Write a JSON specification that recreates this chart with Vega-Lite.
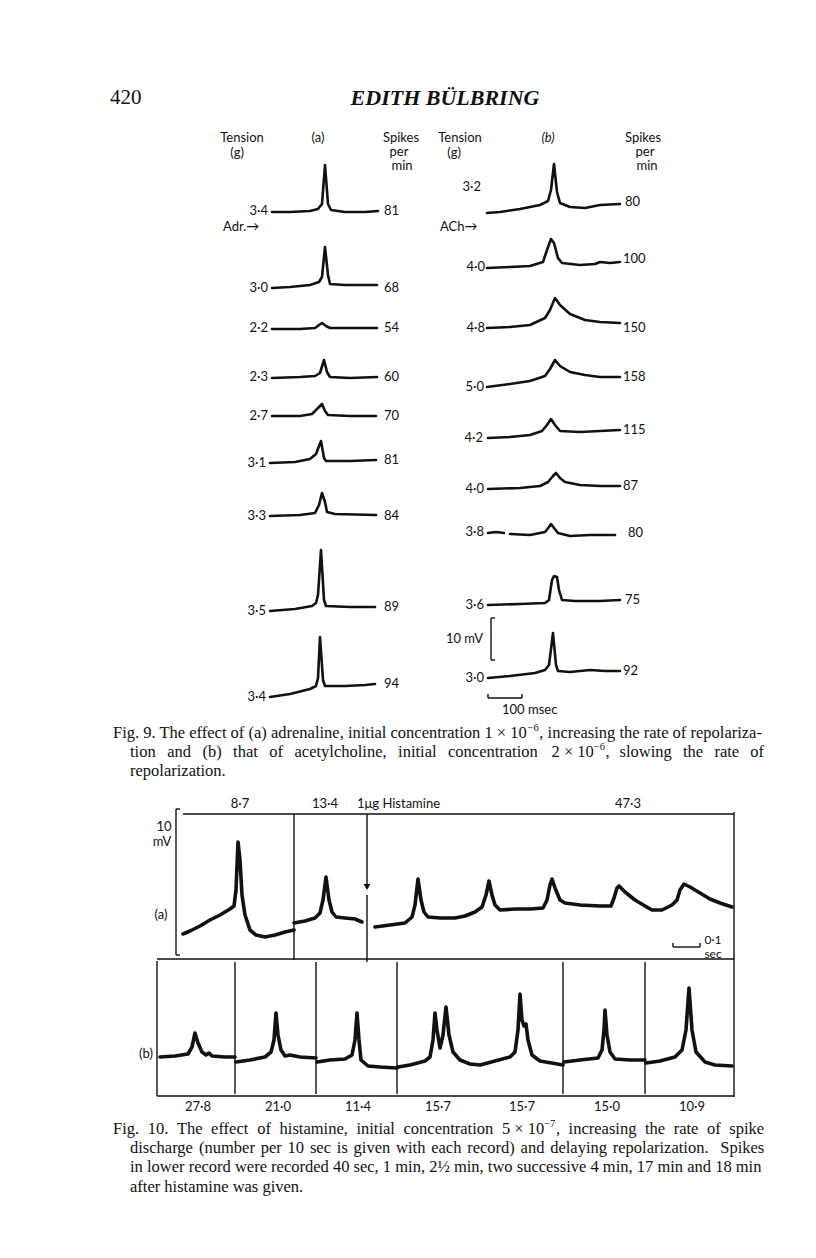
{
 "$schema": "https://vega.github.io/schema/vega-lite/v6.json",
 "width": 816, "height": 1258,
 "autosize": {"type": "fit", "contains": "padding"},
 "padding": 0,
 "background": "white",
 "config": {"view": {"stroke": null}},
 "datasets": {
  "fig9": [
   {"id":"a1","x":272,"y":212},{"id":"a1","x":290,"y":212},{"id":"a1","x":310,"y":211},{"id":"a1","x":318,"y":209},{"id":"a1","x":322,"y":204},{"id":"a1","x":325,"y":165},{"id":"a1","x":328,"y":204},{"id":"a1","x":331,"y":210},{"id":"a1","x":345,"y":212},{"id":"a1","x":365,"y":212},{"id":"a1","x":378,"y":211},
   {"id":"a2","x":272,"y":288},{"id":"a2","x":290,"y":287},{"id":"a2","x":310,"y":285},{"id":"a2","x":319,"y":282},{"id":"a2","x":322,"y":277},{"id":"a2","x":325,"y":247},{"id":"a2","x":328,"y":275},{"id":"a2","x":330,"y":284},{"id":"a2","x":345,"y":285},{"id":"a2","x":365,"y":285},{"id":"a2","x":377,"y":285},
   {"id":"a3","x":272,"y":329},{"id":"a3","x":300,"y":329},{"id":"a3","x":315,"y":328},{"id":"a3","x":319,"y":325},{"id":"a3","x":322,"y":323},{"id":"a3","x":326,"y":326},{"id":"a3","x":330,"y":328},{"id":"a3","x":350,"y":328},{"id":"a3","x":377,"y":328},
   {"id":"a4","x":272,"y":378},{"id":"a4","x":300,"y":377},{"id":"a4","x":315,"y":376},{"id":"a4","x":320,"y":373},{"id":"a4","x":324,"y":360},{"id":"a4","x":327,"y":372},{"id":"a4","x":330,"y":377},{"id":"a4","x":350,"y":378},{"id":"a4","x":377,"y":377},
   {"id":"a5","x":272,"y":416},{"id":"a5","x":300,"y":416},{"id":"a5","x":312,"y":414},{"id":"a5","x":318,"y":408},{"id":"a5","x":322,"y":404},{"id":"a5","x":325,"y":411},{"id":"a5","x":328,"y":415},{"id":"a5","x":350,"y":416},{"id":"a5","x":376,"y":416},
   {"id":"a6","x":270,"y":463},{"id":"a6","x":295,"y":462},{"id":"a6","x":310,"y":459},{"id":"a6","x":316,"y":454},{"id":"a6","x":321,"y":441},{"id":"a6","x":324,"y":458},{"id":"a6","x":326,"y":461},{"id":"a6","x":350,"y":461},{"id":"a6","x":376,"y":460},
   {"id":"a7","x":270,"y":516},{"id":"a7","x":300,"y":515},{"id":"a7","x":315,"y":513},{"id":"a7","x":319,"y":505},{"id":"a7","x":322,"y":493},{"id":"a7","x":325,"y":502},{"id":"a7","x":327,"y":512},{"id":"a7","x":335,"y":514},{"id":"a7","x":376,"y":515},
   {"id":"a8","x":270,"y":611},{"id":"a8","x":295,"y":609},{"id":"a8","x":312,"y":606},{"id":"a8","x":316,"y":603},{"id":"a8","x":318,"y":595},{"id":"a8","x":321,"y":550},{"id":"a8","x":324,"y":600},{"id":"a8","x":326,"y":606},{"id":"a8","x":350,"y":607},{"id":"a8","x":375,"y":607},
   {"id":"a9","x":270,"y":697},{"id":"a9","x":290,"y":694},{"id":"a9","x":310,"y":689},{"id":"a9","x":316,"y":686},{"id":"a9","x":318,"y":678},{"id":"a9","x":320,"y":637},{"id":"a9","x":323,"y":680},{"id":"a9","x":325,"y":686},{"id":"a9","x":345,"y":686},{"id":"a9","x":365,"y":685},{"id":"a9","x":375,"y":684},
   {"id":"b1","x":487,"y":213},{"id":"b1","x":500,"y":212},{"id":"b1","x":520,"y":209},{"id":"b1","x":540,"y":205},{"id":"b1","x":548,"y":201},{"id":"b1","x":551,"y":190},{"id":"b1","x":554,"y":164},{"id":"b1","x":557,"y":192},{"id":"b1","x":560,"y":203},{"id":"b1","x":570,"y":207},{"id":"b1","x":585,"y":208},{"id":"b1","x":600,"y":205},{"id":"b1","x":620,"y":204},
   {"id":"b2","x":487,"y":268},{"id":"b2","x":510,"y":267},{"id":"b2","x":530,"y":266},{"id":"b2","x":543,"y":262},{"id":"b2","x":547,"y":250},{"id":"b2","x":551,"y":239},{"id":"b2","x":554,"y":243},{"id":"b2","x":558,"y":258},{"id":"b2","x":562,"y":263},{"id":"b2","x":580,"y":265},{"id":"b2","x":595,"y":264},{"id":"b2","x":600,"y":262},{"id":"b2","x":610,"y":263},{"id":"b2","x":620,"y":262},
   {"id":"b3","x":487,"y":328},{"id":"b3","x":510,"y":327},{"id":"b3","x":530,"y":325},{"id":"b3","x":545,"y":318},{"id":"b3","x":550,"y":310},{"id":"b3","x":555,"y":298},{"id":"b3","x":560,"y":305},{"id":"b3","x":570,"y":314},{"id":"b3","x":585,"y":320},{"id":"b3","x":600,"y":322},{"id":"b3","x":620,"y":323},
   {"id":"b4","x":487,"y":387},{"id":"b4","x":510,"y":384},{"id":"b4","x":530,"y":381},{"id":"b4","x":545,"y":376},{"id":"b4","x":550,"y":369},{"id":"b4","x":555,"y":360},{"id":"b4","x":560,"y":366},{"id":"b4","x":570,"y":372},{"id":"b4","x":585,"y":375},{"id":"b4","x":600,"y":377},{"id":"b4","x":620,"y":377},
   {"id":"b5","x":488,"y":438},{"id":"b5","x":510,"y":437},{"id":"b5","x":530,"y":435},{"id":"b5","x":542,"y":431},{"id":"b5","x":547,"y":425},{"id":"b5","x":551,"y":419},{"id":"b5","x":555,"y":425},{"id":"b5","x":560,"y":431},{"id":"b5","x":580,"y":432},{"id":"b5","x":600,"y":431},{"id":"b5","x":620,"y":430},
   {"id":"b6","x":488,"y":489},{"id":"b6","x":520,"y":488},{"id":"b6","x":540,"y":486},{"id":"b6","x":548,"y":482},{"id":"b6","x":553,"y":476},{"id":"b6","x":556,"y":473},{"id":"b6","x":560,"y":478},{"id":"b6","x":565,"y":482},{"id":"b6","x":580,"y":485},{"id":"b6","x":600,"y":486},{"id":"b6","x":620,"y":486},
   {"id":"b7a","x":488,"y":533},{"id":"b7a","x":496,"y":532},{"id":"b7a","x":504,"y":533},
   {"id":"b7","x":510,"y":534},{"id":"b7","x":530,"y":535},{"id":"b7","x":545,"y":532},{"id":"b7","x":549,"y":527},{"id":"b7","x":551,"y":524},{"id":"b7","x":554,"y":528},{"id":"b7","x":558,"y":533},{"id":"b7","x":570,"y":536},{"id":"b7","x":590,"y":535},{"id":"b7","x":615,"y":535},
   {"id":"b8","x":488,"y":605},{"id":"b8","x":520,"y":604},{"id":"b8","x":545,"y":603},{"id":"b8","x":549,"y":600},{"id":"b8","x":552,"y":580},{"id":"b8","x":554,"y":576},{"id":"b8","x":557,"y":577},{"id":"b8","x":559,"y":590},{"id":"b8","x":562,"y":600},{"id":"b8","x":575,"y":601},{"id":"b8","x":600,"y":601},{"id":"b8","x":620,"y":600},
   {"id":"b9","x":488,"y":678},{"id":"b9","x":510,"y":676},{"id":"b9","x":535,"y":673},{"id":"b9","x":545,"y":670},{"id":"b9","x":549,"y":665},{"id":"b9","x":553,"y":633},{"id":"b9","x":556,"y":665},{"id":"b9","x":558,"y":671},{"id":"b9","x":570,"y":672},{"id":"b9","x":590,"y":670},{"id":"b9","x":605,"y":671},{"id":"b9","x":620,"y":671}
  ],
  "fig10": [
   {"id":"u1","x":183,"y":934},{"id":"u1","x":190,"y":931},{"id":"u1","x":200,"y":926},{"id":"u1","x":210,"y":920},{"id":"u1","x":220,"y":915},{"id":"u1","x":230,"y":909},{"id":"u1","x":234,"y":906},{"id":"u1","x":236,"y":890},{"id":"u1","x":238,"y":842},{"id":"u1","x":240,"y":860},{"id":"u1","x":242,"y":895},{"id":"u1","x":245,"y":915},{"id":"u1","x":250,"y":930},{"id":"u1","x":256,"y":935},{"id":"u1","x":265,"y":937},{"id":"u1","x":275,"y":935},{"id":"u1","x":285,"y":932},{"id":"u1","x":294,"y":930},
   {"id":"u2","x":294,"y":923},{"id":"u2","x":305,"y":921},{"id":"u2","x":315,"y":918},{"id":"u2","x":320,"y":913},{"id":"u2","x":323,"y":900},{"id":"u2","x":326,"y":877},{"id":"u2","x":329,"y":900},{"id":"u2","x":332,"y":912},{"id":"u2","x":336,"y":917},{"id":"u2","x":345,"y":918},{"id":"u2","x":355,"y":919},{"id":"u2","x":362,"y":922},
   {"id":"u3","x":375,"y":927},{"id":"u3","x":390,"y":925},{"id":"u3","x":405,"y":923},{"id":"u3","x":412,"y":917},{"id":"u3","x":415,"y":905},{"id":"u3","x":418,"y":879},{"id":"u3","x":421,"y":900},{"id":"u3","x":424,"y":912},{"id":"u3","x":428,"y":917},{"id":"u3","x":440,"y":918},{"id":"u3","x":455,"y":918},{"id":"u3","x":465,"y":916},{"id":"u3","x":475,"y":912},{"id":"u3","x":482,"y":907},{"id":"u3","x":486,"y":895},{"id":"u3","x":489,"y":881},{"id":"u3","x":492,"y":895},{"id":"u3","x":495,"y":905},{"id":"u3","x":500,"y":910},{"id":"u3","x":515,"y":909},{"id":"u3","x":530,"y":909},{"id":"u3","x":543,"y":908},{"id":"u3","x":547,"y":900},{"id":"u3","x":550,"y":885},{"id":"u3","x":552,"y":879},{"id":"u3","x":555,"y":888},{"id":"u3","x":560,"y":900},{"id":"u3","x":565,"y":903},{"id":"u3","x":580,"y":905},{"id":"u3","x":600,"y":906},{"id":"u3","x":611,"y":906},{"id":"u3","x":614,"y":898},{"id":"u3","x":617,"y":888},{"id":"u3","x":619,"y":886},{"id":"u3","x":625,"y":892},{"id":"u3","x":635,"y":900},{"id":"u3","x":645,"y":906},{"id":"u3","x":652,"y":910},{"id":"u3","x":662,"y":910},{"id":"u3","x":672,"y":905},{"id":"u3","x":677,"y":900},{"id":"u3","x":680,"y":890},{"id":"u3","x":684,"y":884},{"id":"u3","x":690,"y":887},{"id":"u3","x":700,"y":893},{"id":"u3","x":710,"y":899},{"id":"u3","x":720,"y":903},{"id":"u3","x":732,"y":907},
   {"id":"l1","x":160,"y":1057},{"id":"l1","x":175,"y":1056},{"id":"l1","x":188,"y":1054},{"id":"l1","x":192,"y":1047},{"id":"l1","x":195,"y":1033},{"id":"l1","x":198,"y":1043},{"id":"l1","x":202,"y":1052},{"id":"l1","x":206,"y":1055},{"id":"l1","x":209,"y":1053},{"id":"l1","x":212,"y":1056},{"id":"l1","x":225,"y":1057},{"id":"l1","x":235,"y":1057},
   {"id":"l2","x":236,"y":1062},{"id":"l2","x":250,"y":1060},{"id":"l2","x":265,"y":1057},{"id":"l2","x":271,"y":1052},{"id":"l2","x":274,"y":1040},{"id":"l2","x":276,"y":1013},{"id":"l2","x":278,"y":1035},{"id":"l2","x":281,"y":1050},{"id":"l2","x":285,"y":1056},{"id":"l2","x":290,"y":1055},{"id":"l2","x":300,"y":1057},{"id":"l2","x":316,"y":1058},
   {"id":"l3","x":317,"y":1062},{"id":"l3","x":330,"y":1060},{"id":"l3","x":345,"y":1059},{"id":"l3","x":352,"y":1055},{"id":"l3","x":355,"y":1040},{"id":"l3","x":357,"y":1013},{"id":"l3","x":359,"y":1040},{"id":"l3","x":361,"y":1060},{"id":"l3","x":368,"y":1066},{"id":"l3","x":380,"y":1067},{"id":"l3","x":397,"y":1068},
   {"id":"l4","x":398,"y":1067},{"id":"l4","x":410,"y":1065},{"id":"l4","x":425,"y":1061},{"id":"l4","x":430,"y":1057},{"id":"l4","x":433,"y":1040},{"id":"l4","x":435,"y":1013},{"id":"l4","x":437,"y":1030},{"id":"l4","x":440,"y":1048},{"id":"l4","x":443,"y":1035},{"id":"l4","x":446,"y":1007},{"id":"l4","x":449,"y":1035},{"id":"l4","x":453,"y":1052},{"id":"l4","x":460,"y":1060},{"id":"l4","x":470,"y":1064},{"id":"l4","x":480,"y":1065},{"id":"l4","x":495,"y":1061},{"id":"l4","x":510,"y":1057},{"id":"l4","x":515,"y":1052},{"id":"l4","x":518,"y":1030},{"id":"l4","x":520,"y":994},{"id":"l4","x":522,"y":1020},{"id":"l4","x":524,"y":1026},{"id":"l4","x":526,"y":1024},{"id":"l4","x":528,"y":1040},{"id":"l4","x":532,"y":1055},{"id":"l4","x":540,"y":1061},{"id":"l4","x":563,"y":1065},
   {"id":"l5","x":564,"y":1062},{"id":"l5","x":580,"y":1060},{"id":"l5","x":598,"y":1058},{"id":"l5","x":602,"y":1050},{"id":"l5","x":604,"y":1030},{"id":"l5","x":605,"y":1010},{"id":"l5","x":607,"y":1035},{"id":"l5","x":610,"y":1052},{"id":"l5","x":615,"y":1059},{"id":"l5","x":630,"y":1060},{"id":"l5","x":645,"y":1060},
   {"id":"l6","x":646,"y":1063},{"id":"l6","x":660,"y":1061},{"id":"l6","x":675,"y":1057},{"id":"l6","x":682,"y":1050},{"id":"l6","x":686,"y":1030},{"id":"l6","x":689,"y":988},{"id":"l6","x":692,"y":1030},{"id":"l6","x":696,"y":1052},{"id":"l6","x":705,"y":1062},{"id":"l6","x":715,"y":1065},{"id":"l6","x":732,"y":1066}
  ],
  "rules": [
   {"x":491,"y":618,"x2":491,"y2":660},{"x":491,"y":618,"x2":495,"y2":618},{"x":491,"y":660,"x2":495,"y2":660},
   {"x":488,"y":698,"x2":522,"y2":698},{"x":488,"y":694,"x2":488,"y2":698},{"x":522,"y":694,"x2":522,"y2":698},
   {"x":183,"y":814,"x2":734,"y2":814},
   {"x":176,"y":809,"x2":176,"y2":955},{"x":176,"y":809,"x2":180,"y2":809},{"x":176,"y":955,"x2":180,"y2":955},
   {"x":734,"y":812,"x2":734,"y2":1097},
   {"x":294,"y":814,"x2":294,"y2":960},
   {"x":367,"y":814,"x2":367,"y2":884},
   {"x":367,"y":895,"x2":367,"y2":962},
   {"x":157,"y":959,"x2":734,"y2":959},
   {"x":157,"y":961,"x2":157,"y2":1096},
   {"x":157,"y":1096,"x2":734,"y2":1096},
   {"x":235,"y":962,"x2":235,"y2":1094},
   {"x":316,"y":962,"x2":316,"y2":1094},
   {"x":397,"y":962,"x2":397,"y2":1094},
   {"x":563,"y":962,"x2":563,"y2":1094},
   {"x":645,"y":962,"x2":645,"y2":1094},
   {"x":673,"y":947,"x2":700,"y2":947},{"x":673,"y":943,"x2":673,"y2":947},{"x":700,"y":943,"x2":700,"y2":947}
  ],
  "heads": [{"x":367,"y":887}],
  "texts": [
   {"kind":"page","x":110,"y":98,"text":"420"},
   {"kind":"running","x":445,"y":98,"text":"EDITH BÜLBRING"},
   {"kind":"center","x":242,"y":138,"text":"Tension"},
   {"kind":"center","x":237,"y":153,"text":"(g)"},
   {"kind":"center","x":318,"y":138,"text":"(a)"},
   {"kind":"center","x":401,"y":138,"text":"Spikes"},
   {"kind":"center","x":399,"y":152,"text":"per"},
   {"kind":"center","x":402,"y":166,"text":"min"},
   {"kind":"center","x":460,"y":138,"text":"Tension"},
   {"kind":"center","x":454,"y":153,"text":"(g)"},
   {"kind":"italic","x":548,"y":138,"text":"(b)"},
   {"kind":"center","x":643,"y":138,"text":"Spikes"},
   {"kind":"center","x":645,"y":152,"text":"per"},
   {"kind":"center","x":647,"y":166,"text":"min"},
   {"kind":"right","x":268,"y":211,"text":"3·4"},
   {"kind":"right","x":268,"y":288,"text":"3·0"},
   {"kind":"right","x":268,"y":328,"text":"2·2"},
   {"kind":"right","x":268,"y":377,"text":"2·3"},
   {"kind":"right","x":268,"y":416,"text":"2·7"},
   {"kind":"right","x":266,"y":463,"text":"3·1"},
   {"kind":"right","x":266,"y":516,"text":"3·3"},
   {"kind":"right","x":266,"y":611,"text":"3·5"},
   {"kind":"right","x":266,"y":697,"text":"3·4"},
   {"kind":"left","x":384,"y":211,"text":"81"},
   {"kind":"left","x":384,"y":288,"text":"68"},
   {"kind":"left","x":384,"y":328,"text":"54"},
   {"kind":"left","x":384,"y":377,"text":"60"},
   {"kind":"left","x":384,"y":416,"text":"70"},
   {"kind":"left","x":384,"y":460,"text":"81"},
   {"kind":"left","x":384,"y":516,"text":"84"},
   {"kind":"left","x":384,"y":607,"text":"89"},
   {"kind":"left","x":384,"y":684,"text":"94"},
   {"kind":"left","x":223,"y":227,"text":"Adr.→"},
   {"kind":"left","x":440,"y":227,"text":"ACh→"},
   {"kind":"right","x":481,"y":187,"text":"3·2"},
   {"kind":"right","x":485,"y":267,"text":"4·0"},
   {"kind":"right","x":485,"y":328,"text":"4·8"},
   {"kind":"right","x":484,"y":387,"text":"5·0"},
   {"kind":"right","x":483,"y":438,"text":"4·2"},
   {"kind":"right","x":484,"y":489,"text":"4·0"},
   {"kind":"right","x":484,"y":532,"text":"3·8"},
   {"kind":"right","x":484,"y":605,"text":"3·6"},
   {"kind":"right","x":484,"y":678,"text":"3·0"},
   {"kind":"left","x":625,"y":202,"text":"80"},
   {"kind":"left","x":623,"y":259,"text":"100"},
   {"kind":"left","x":623,"y":328,"text":"150"},
   {"kind":"left","x":623,"y":377,"text":"158"},
   {"kind":"left","x":623,"y":430,"text":"115"},
   {"kind":"left","x":623,"y":486,"text":"87"},
   {"kind":"left","x":628,"y":533,"text":"80"},
   {"kind":"left","x":625,"y":600,"text":"75"},
   {"kind":"left","x":623,"y":671,"text":"92"},
   {"kind":"right","x":483,"y":639,"text":"10 mV"},
   {"kind":"left","x":502,"y":710,"text":"100 msec"},
   {"kind":"center","x":240,"y":804,"text":"8·7"},
   {"kind":"center","x":325,"y":804,"text":"13·4"},
   {"kind":"left","x":357,"y":804,"text":"1μg Histamine"},
   {"kind":"center","x":628,"y":804,"text":"47·3"},
   {"kind":"center","x":164,"y":827,"text":"10"},
   {"kind":"center","x":162,"y":842,"text":"mV"},
   {"kind":"center","x":161,"y":915,"text":"(a)"},
   {"kind":"small","x":713,"y":940,"text":"0·1"},
   {"kind":"small","x":713,"y":954,"text":"sec"},
   {"kind":"center","x":146,"y":1054,"text":"(b)"},
   {"kind":"center","x":198,"y":1107,"text":"27·8"},
   {"kind":"center","x":278,"y":1107,"text":"21·0"},
   {"kind":"center","x":358,"y":1107,"text":"11·4"},
   {"kind":"center","x":438,"y":1107,"text":"15·7"},
   {"kind":"center","x":522,"y":1107,"text":"15·7"},
   {"kind":"center","x":607,"y":1107,"text":"15·0"},
   {"kind":"center","x":692,"y":1107,"text":"10·9"},
   {"kind":"caption","x":113,"y":733,"text":"Fig. 9. The effect of (a) adrenaline, initial concentration 1 × 10"},
   {"kind":"sup","x":527.6,"y":728,"text":"−6"},
   {"kind":"caption","x":539.3,"y":733,"text":", increasing the rate of repolariza-"},
   {"kind":"caption","x":130,"y":752,"text":"tion"},
   {"kind":"caption","x":167.2,"y":752,"text":"and"},
   {"kind":"caption","x":202.4,"y":752,"text":"(b)"},
   {"kind":"caption","x":233.1,"y":752,"text":"that"},
   {"kind":"caption","x":269.3,"y":752,"text":"of"},
   {"kind":"caption","x":294.5,"y":752,"text":"acetylcholine,"},
   {"kind":"caption","x":398.1,"y":752,"text":"initial"},
   {"kind":"caption","x":448.0,"y":752,"text":"concentration"},
   {"kind":"caption","x":551.5,"y":752,"text":"2 × 10"},
   {"kind":"sup","x":593.8,"y":747,"text":"−6"},
   {"kind":"caption","x":605.5,"y":752,"text":","},
   {"kind":"caption","x":619.5,"y":752,"text":"slowing"},
   {"kind":"caption","x":683,"y":752,"text":"the"},
   {"kind":"caption","x":714.4,"y":752,"text":"rate"},
   {"kind":"caption","x":750.3,"y":752,"text":"of"},
   {"kind":"caption","x":130,"y":771,"text":"repolarization."},
   {"kind":"caption","x":113,"y":1129,"text":"Fig."},
   {"kind":"caption","x":147.7,"y":1129,"text":"10."},
   {"kind":"caption","x":176.9,"y":1129,"text":"The"},
   {"kind":"caption","x":211.1,"y":1129,"text":"effect"},
   {"kind":"caption","x":257.3,"y":1129,"text":"of"},
   {"kind":"caption","x":279.6,"y":1129,"text":"histamine,"},
   {"kind":"caption","x":356.4,"y":1129,"text":"initial"},
   {"kind":"caption","x":403.5,"y":1129,"text":"concentration"},
   {"kind":"caption","x":501.9,"y":1129,"text":"5 × 10"},
   {"kind":"sup","x":544.2,"y":1124,"text":"−7"},
   {"kind":"caption","x":555.9,"y":1129,"text":","},
   {"kind":"caption","x":568.6,"y":1129,"text":"increasing"},
   {"kind":"caption","x":645.0,"y":1129,"text":"the"},
   {"kind":"caption","x":673.7,"y":1129,"text":"rate"},
   {"kind":"caption","x":707.0,"y":1129,"text":"of"},
   {"kind":"caption","x":729.3,"y":1129,"text":"spike"},
   {"kind":"caption","x":130,"y":1148,"text":"discharge"},
   {"kind":"caption","x":199.0,"y":1148,"text":"(number"},
   {"kind":"caption","x":260.7,"y":1148,"text":"per"},
   {"kind":"caption","x":287.6,"y":1148,"text":"10"},
   {"kind":"caption","x":309.9,"y":1148,"text":"sec"},
   {"kind":"caption","x":336.8,"y":1148,"text":"is"},
   {"kind":"caption","x":353.6,"y":1148,"text":"given"},
   {"kind":"caption","x":396.1,"y":1148,"text":"with"},
   {"kind":"caption","x":431.2,"y":1148,"text":"each"},
   {"kind":"caption","x":467.2,"y":1148,"text":"record)"},
   {"kind":"caption","x":520.6,"y":1148,"text":"and"},
   {"kind":"caption","x":550.2,"y":1148,"text":"delaying"},
   {"kind":"caption","x":612.8,"y":1148,"text":"repolarization."},
   {"kind":"caption","x":720.2,"y":1148,"text":"Spikes"},
   {"kind":"caption","x":130,"y":1167,"text":"in lower record were recorded 40 sec, 1 min, 2½ min, two successive 4 min, 17 min and 18 min"},
   {"kind":"caption","x":130,"y":1187,"text":"after histamine was given."}
  ]
 },
 "encoding": {
  "x": {"field": "x", "type": "quantitative", "scale": {"domain": [0, 816], "nice": false, "zero": false}, "axis": null},
  "y": {"field": "y", "type": "quantitative", "scale": {"domain": [0, 1258], "nice": false, "zero": false, "reverse": true}, "axis": null}
 },
 "layer": [
  {"data": {"name": "fig9"}, "mark": {"type": "line", "color": "#111", "strokeWidth": 2.6, "strokeJoin": "round", "strokeCap": "round"}, "encoding": {"detail": {"field": "id"}}},
  {"data": {"name": "fig10"}, "mark": {"type": "line", "color": "#111", "strokeWidth": 3.6, "strokeJoin": "round", "strokeCap": "round"}, "encoding": {"detail": {"field": "id"}}},
  {"data": {"name": "rules"}, "mark": {"type": "rule", "color": "#111", "strokeWidth": 1.4}, "encoding": {"x2": {"field": "x2"}, "y2": {"field": "y2"}}},
  {"data": {"name": "heads"}, "mark": {"type": "point", "shape": "triangle-down", "filled": true, "color": "#111", "size": 45, "opacity": 1}},
  {"data": {"name": "texts"}, "transform": [{"filter": "datum.kind == 'page'"}], "mark": {"type": "text", "font": "Liberation Serif", "fontSize": 21, "align": "left", "baseline": "middle", "color": "#111"}, "encoding": {"text": {"field": "text"}}},
  {"data": {"name": "texts"}, "transform": [{"filter": "datum.kind == 'running'"}], "mark": {"type": "text", "font": "Liberation Serif", "fontSize": 22, "fontStyle": "italic", "fontWeight": "bold", "align": "center", "baseline": "middle", "color": "#111"}, "encoding": {"text": {"field": "text"}}},
  {"data": {"name": "texts"}, "transform": [{"filter": "datum.kind == 'center'"}], "mark": {"type": "text", "font": "Lato", "fontSize": 13, "align": "center", "baseline": "middle", "color": "#111"}, "encoding": {"text": {"field": "text"}}},
  {"data": {"name": "texts"}, "transform": [{"filter": "datum.kind == 'italic'"}], "mark": {"type": "text", "font": "Lato", "fontSize": 13, "fontStyle": "italic", "align": "center", "baseline": "middle", "color": "#111"}, "encoding": {"text": {"field": "text"}}},
  {"data": {"name": "texts"}, "transform": [{"filter": "datum.kind == 'small'"}], "mark": {"type": "text", "font": "Lato", "fontSize": 12, "align": "center", "baseline": "middle", "color": "#111"}, "encoding": {"text": {"field": "text"}}},
  {"data": {"name": "texts"}, "transform": [{"filter": "datum.kind == 'left'"}], "mark": {"type": "text", "font": "Lato", "fontSize": 13, "align": "left", "baseline": "middle", "color": "#111"}, "encoding": {"text": {"field": "text"}}},
  {"data": {"name": "texts"}, "transform": [{"filter": "datum.kind == 'right'"}], "mark": {"type": "text", "font": "Lato", "fontSize": 13, "align": "right", "baseline": "middle", "color": "#111"}, "encoding": {"text": {"field": "text"}}},
  {"data": {"name": "texts"}, "transform": [{"filter": "datum.kind == 'caption'"}], "mark": {"type": "text", "font": "Liberation Serif", "fontSize": 16.5, "align": "left", "baseline": "middle", "color": "#111"}, "encoding": {"text": {"field": "text"}}},
  {"data": {"name": "texts"}, "transform": [{"filter": "datum.kind == 'sup'"}], "mark": {"type": "text", "font": "Liberation Serif", "fontSize": 10.5, "align": "left", "baseline": "middle", "color": "#111"}, "encoding": {"text": {"field": "text"}}}
 ]
}
